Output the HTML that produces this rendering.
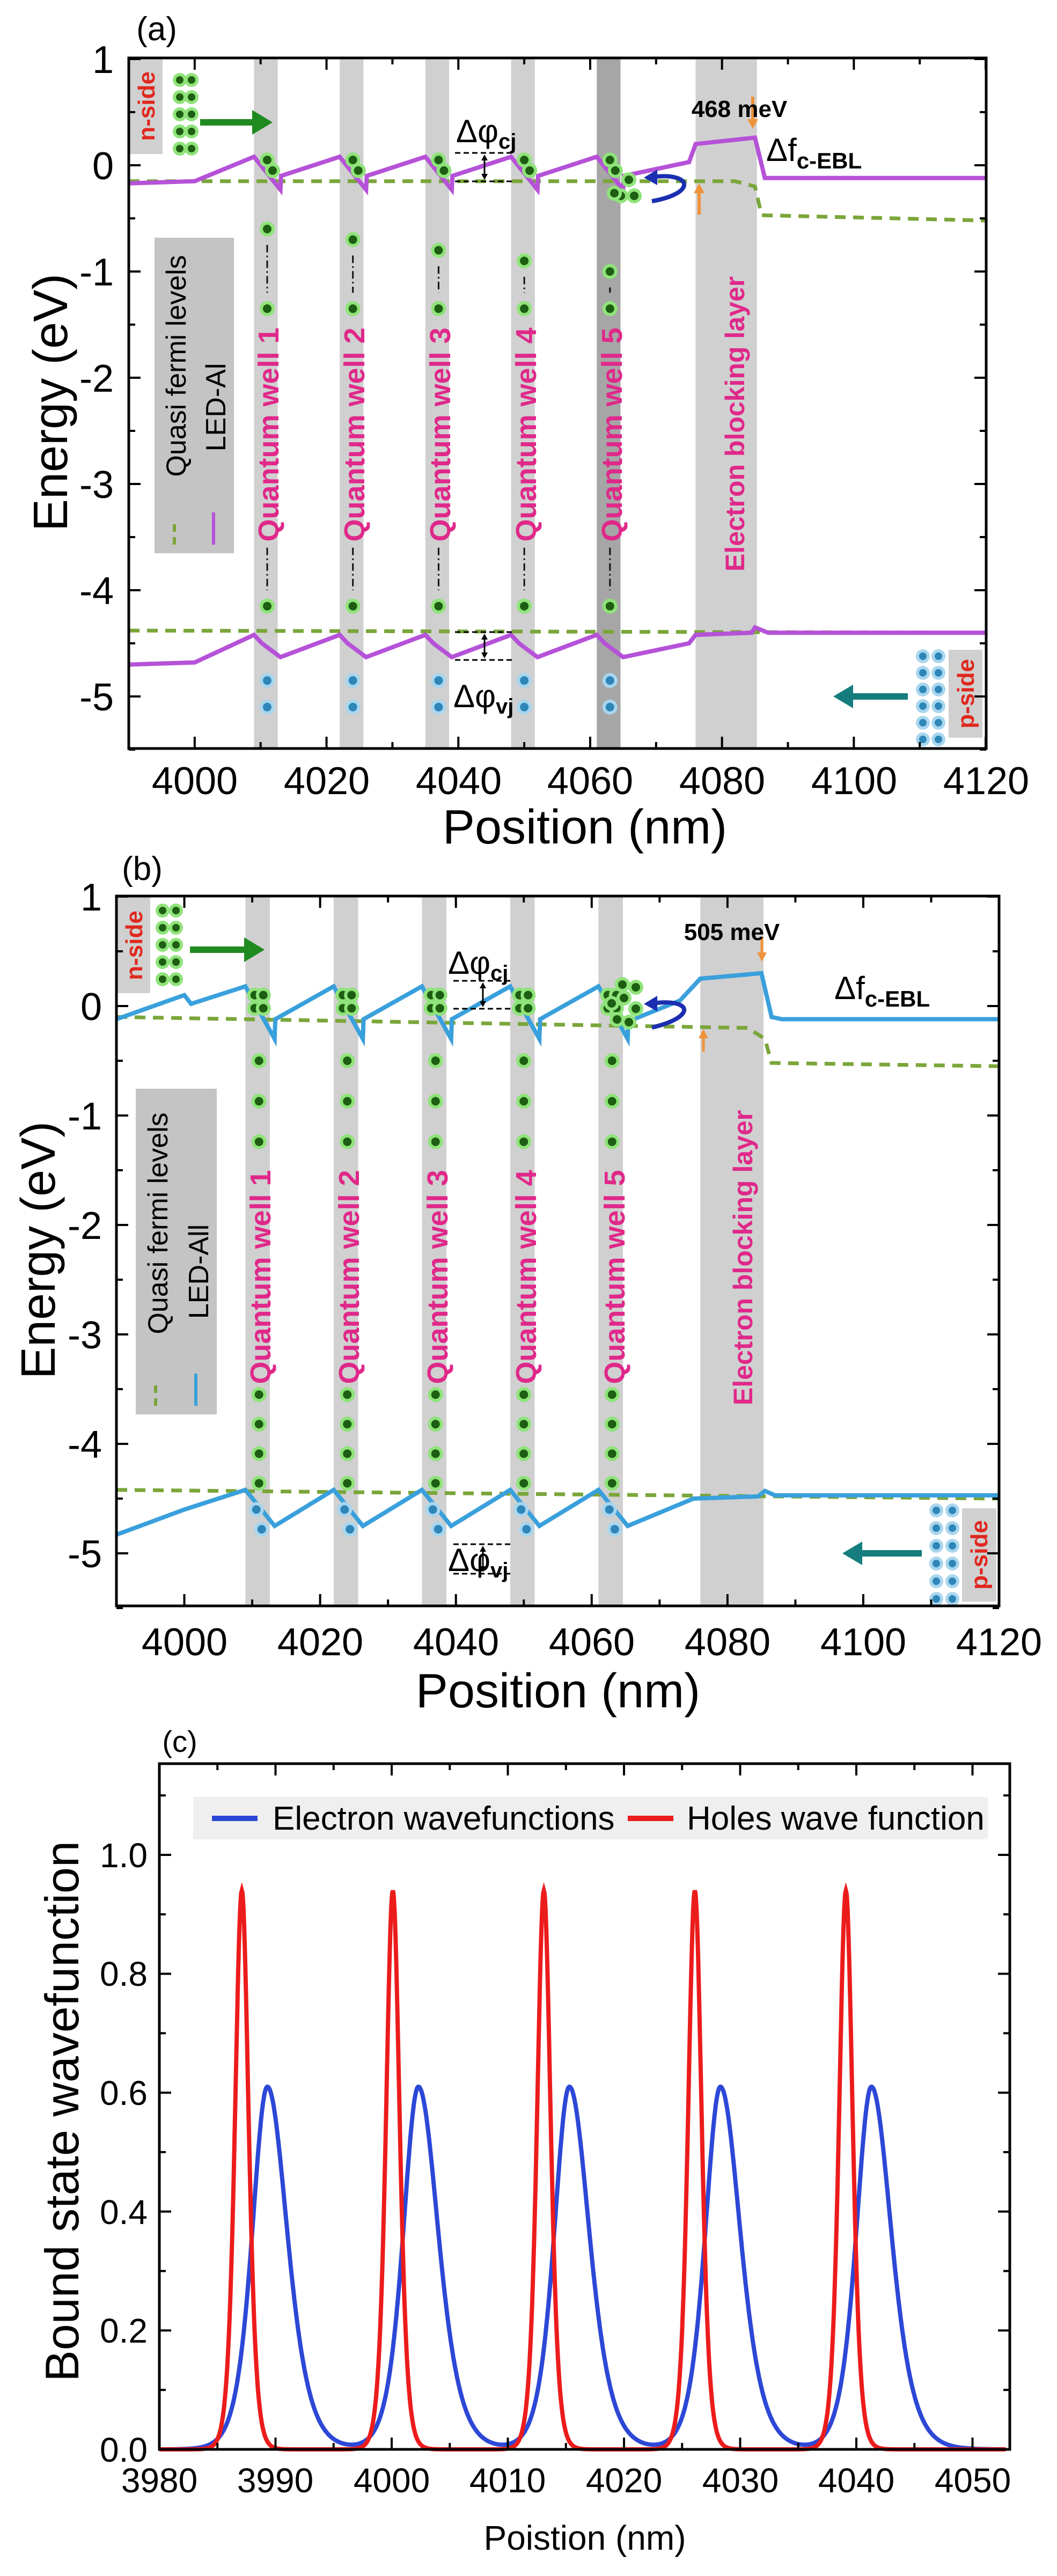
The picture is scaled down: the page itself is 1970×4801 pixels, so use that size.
<!DOCTYPE html>
<html><head><meta charset="utf-8"><style>
html,body{margin:0;padding:0;background:#fff}
svg{display:block}
text{font-family:"Liberation Sans",Arial,sans-serif}
</style></head><body>
<svg id="s" xmlns="http://www.w3.org/2000/svg" width="1970" height="4801" viewBox="0 0 1970 4801">
<rect width="1970" height="4801" fill="#fff"/>
<g id="bg"></g>
<g id="data"></g>
<g id="frame" fill="none" stroke="#000" stroke-width="5"></g>
<g font-size="72" text-anchor="middle">
<text x="292" y="75" font-size="62">(a)</text>
<text x="212" y="136" text-anchor="end">1</text>
<text x="212" y="334" text-anchor="end">0</text>
<text x="212" y="532" text-anchor="end">-1</text>
<text x="212" y="730" text-anchor="end">-2</text>
<text x="212" y="928" text-anchor="end">-3</text>
<text x="212" y="1126" text-anchor="end">-4</text>
<text x="212" y="1324" text-anchor="end">-5</text>
<text x="363" y="1480">4000</text><text x="609" y="1480">4020</text><text x="855" y="1480">4040</text>
<text x="1100" y="1480">4060</text><text x="1346" y="1480">4080</text><text x="1592" y="1480">4100</text><text x="1838" y="1480">4120</text>
<text x="1090" y="1572" font-size="90">Position (nm)</text>
<text transform="translate(125,750) rotate(-90)" font-size="90">Energy (eV)</text>
</g>
<g font-size="72" text-anchor="middle">
<text x="265" y="1640" font-size="62">(b)</text>
<text x="190" y="1697" text-anchor="end">1</text>
<text x="190" y="1901" text-anchor="end">0</text>
<text x="190" y="2105" text-anchor="end">-1</text>
<text x="190" y="2309" text-anchor="end">-2</text>
<text x="190" y="2513" text-anchor="end">-3</text>
<text x="190" y="2717" text-anchor="end">-4</text>
<text x="190" y="2921" text-anchor="end">-5</text>
<text x="344" y="3085">4000</text><text x="597" y="3085">4020</text><text x="850" y="3085">4040</text>
<text x="1103" y="3085">4060</text><text x="1356" y="3085">4080</text><text x="1609" y="3085">4100</text><text x="1862" y="3085">4120</text>
<text x="1040" y="3182" font-size="90">Position (nm)</text>
<text transform="translate(102,2330) rotate(-90)" font-size="90">Energy (eV)</text>
</g>
<g font-size="64" text-anchor="middle">
<text x="335" y="3265" font-size="56">(c)</text>
<text x="275" y="3480" text-anchor="end">1.0</text>
<text x="275" y="3701" text-anchor="end">0.8</text>
<text x="275" y="3923" text-anchor="end">0.6</text>
<text x="275" y="4145" text-anchor="end">0.4</text>
<text x="275" y="4366" text-anchor="end">0.2</text>
<text x="275" y="4588" text-anchor="end">0.0</text>
<text x="297" y="4645">3980</text><text x="513" y="4645">3990</text><text x="730" y="4645">4000</text><text x="946" y="4645">4010</text>
<text x="1163" y="4645">4020</text><text x="1380" y="4645">4030</text><text x="1596" y="4645">4040</text><text x="1813" y="4645">4050</text>
<text x="1090" y="4752" font-size="64">Poistion (nm)</text>
<text transform="translate(146,3935) rotate(-90)" font-size="88">Bound state wavefunction</text>
</g>
<script>
var NS="http://www.w3.org/2000/svg";
function el(parent,tag,attrs){var e=document.createElementNS(NS,tag);for(var k in attrs)e.setAttribute(k,attrs[k]);document.getElementById(parent).appendChild(e);return e;}
var P={a:{x0:240,x1:1838,y0:108,y1:1395,X:function(x){return 240+(x-3990)*12.285},Y:function(e){return 308-198*e}},
b:{x0:217,x1:1862,y0:1670,y1:2993,X:function(x){return 217+(x-3990)*12.654},Y:function(e){return 1875-204*e}},
c:{x0:297,x1:1882,y0:3287,y1:4565,X:function(x){return 297+(x-3980)*21.65},Y:function(v){return 4565-1108*v}}};
function path(p,pts,attrs){var d="";pts.forEach(function(q,i){d+=(i?"L":"M")+p.X(q[0]).toFixed(1)+" "+p.Y(q[1]).toFixed(1)});attrs.d=d;attrs.fill="none";return el("data","path",attrs);}
function vrect(p,xa,xb,col){el("bg","rect",{x:p.X(xa),y:p.y0,width:p.X(xb)-p.X(xa),height:p.y1-p.y0,fill:col});}
function dot(cx,cy,col,r){r=r||10;el("data","circle",{cx:cx,cy:cy,r:r+4,fill:col=="b"?"#a9d6ee":"#8fe37a"});el("data","circle",{cx:cx,cy:cy,r:r-2,fill:col=="b"?"#2e86b8":"#1d5e12"});}
var wells=[4009,4022,4035,4048,4061];
["a","b"].forEach(function(k){var p=P[k];
 wells.forEach(function(w,i){vrect(p,w,w+3.6,(k=="a"&&i==4)?"#a6a6a6":"#d0d0d0");});
 vrect(p,4076,4085.3,"#d0d0d0");
});
el("bg","rect",{x:242,y:110,width:61,height:177,fill:"#d0d0d0"});
el("bg","rect",{x:1768,y:1211,width:63,height:164,fill:"#d0d0d0"});
el("bg","rect",{x:288,y:443,width:148,height:588,fill:"#c4c4c4"});
el("bg","rect",{x:219,y:1672,width:61,height:179,fill:"#d0d0d0"});
el("bg","rect",{x:1793,y:2811,width:64,height:174,fill:"#d0d0d0"});
el("bg","rect",{x:253,y:2029,width:151,height:607,fill:"#c4c4c4"});
el("bg","rect",{x:360,y:3349,width:1481,height:79,fill:"#efefef"});
var A=P.a, B=P.b;
var cbA=[[3990,-0.17],[4000,-0.15]];
wells.forEach(function(w){cbA.push([w,0.08],[w+4,-0.23],[w+4.1,-0.1]);});
cbA.pop(); cbA.push([4065.1,-0.1],[4075,0.03],[4076,0.2],[4085,0.26],[4086.5,-0.12],[4120,-0.12]);
var vbA=[[3990,-4.7],[4000,-4.68]];
wells.forEach(function(w){vbA.push([w,-4.42],[w+1.2,-4.5],[w+4,-4.63]);});
vbA.push([4075,-4.5],[4076,-4.42],[4084.5,-4.4],[4085,-4.35],[4087,-4.4],[4120,-4.4]);
path(A,[[3990,-0.15],[4082,-0.15],[4085,-0.2],[4086,-0.47],[4120,-0.52]],{stroke:"#7aa63a","stroke-width":7,"stroke-dasharray":"20 14"});
path(A,[[3990,-4.38],[4120,-4.4]],{stroke:"#7aa63a","stroke-width":7,"stroke-dasharray":"20 14"});
path(A,cbA,{stroke:"#b552d8","stroke-width":8});
path(A,vbA,{stroke:"#b552d8","stroke-width":8});
var cbB=[[3990,-0.12],[4000,0.1],[4001,0.02]];
wells.forEach(function(w){cbB.push([w,0.18],[w+4.3,-0.3],[w+4.4,-0.12]);});
cbB.pop(); cbB.push([4065.4,-0.14],[4073,0.05],[4076,0.25],[4085,0.3],[4086.5,-0.1],[4088,-0.12],[4120,-0.12]);
var vbB=[[3990,-4.83],[4000,-4.6]];
wells.forEach(function(w){vbB.push([w,-4.42],[w+4.3,-4.75]);});
vbB.push([4075,-4.5],[4084.5,-4.48],[4085.5,-4.43],[4087,-4.47],[4120,-4.47]);
path(B,[[3990,-0.1],[4083,-0.2],[4085.5,-0.3],[4086.5,-0.52],[4120,-0.55]],{stroke:"#7aa63a","stroke-width":7,"stroke-dasharray":"20 14"});
path(B,[[3990,-4.42],[4120,-4.5]],{stroke:"#7aa63a","stroke-width":7,"stroke-dasharray":"20 14"});
path(B,cbB,{stroke:"#3aa0dc","stroke-width":8});
path(B,vbB,{stroke:"#3aa0dc","stroke-width":8});
wells.forEach(function(w,i){
 var cx=A.X(w+2);
 dot(cx,A.Y(0.05),"g");dot(cx+10,A.Y(-0.05),"g");
 dot(cx,A.Y(-0.6-0.1*i),"g");dot(cx,A.Y(-1.35),"g");dot(cx,A.Y(-4.15),"g");
 dot(cx,A.Y(-4.85),"b");dot(cx,A.Y(-5.1),"b");
 el("data","line",{x1:cx,y1:A.Y(-0.75-0.1*i),x2:cx,y2:A.Y(-1.2),stroke:"#111","stroke-width":3,"stroke-dasharray":"14 6 3 6"});
 el("data","line",{x1:cx,y1:A.Y(-3.6),x2:cx,y2:A.Y(-4.0),stroke:"#111","stroke-width":3,"stroke-dasharray":"14 6 3 6"});
 var bx=B.X(w+2);
 dot(bx-8,B.Y(0.1),"g");dot(bx+8,B.Y(0.1),"g");dot(bx-8,B.Y(-0.02),"g");dot(bx+8,B.Y(-0.02),"g");
 for(var e2=-0.5;e2>-1.4;e2-=0.37)dot(bx,B.Y(e2),"g");
 for(var e3=-3.55;e3>-4.4;e3-=0.27)dot(bx,B.Y(e3),"g");
 dot(bx-5,B.Y(-4.6),"b");dot(bx+5,B.Y(-4.78),"b");
});
for(var i=0;i<5;i++){dot(335,149+i*32,"g",9);dot(357,149+i*32,"g",9);dot(303,1697+i*32,"g",9);dot(328,1697+i*32,"g",9);}
for(var i=0;i<6;i++){dot(1720,1223+i*31,"b",9);dot(1749,1223+i*31,"b",9);dot(1745,2815+i*33,"b",9);dot(1775,2815+i*33,"b",9);}
el("data","path",{d:"M373 222 H470 V205 L508 228 L470 251 V234 H373Z",fill:"#1f8a1f"});
el("data","path",{d:"M354 1764 H455 V1747 L493 1770 L455 1793 V1776 H354Z",fill:"#1f8a1f"});
el("data","path",{d:"M1692 1292 H1590 V1276 L1553 1298 L1590 1320 V1304 H1692Z",fill:"#157d7d"});
el("data","path",{d:"M1718 2889 H1607 V2873 L1570 2895 L1607 2917 V2901 H1718Z",fill:"#157d7d"});
el("data","line",{x1:1403,y1:180,x2:1403,y2:228,stroke:"#f0923a","stroke-width":6});el("data","path",{d:"M1393 222 L1413 222 L1403 240Z",fill:"#f0923a"});
el("data","line",{x1:1303,y1:400,x2:1303,y2:355,stroke:"#f0923a","stroke-width":6});el("data","path",{d:"M1293 360 L1313 360 L1303 342Z",fill:"#f0923a"});
el("data","line",{x1:1420,y1:1746,x2:1420,y2:1780,stroke:"#f0923a","stroke-width":5});el("data","path",{d:"M1411 1775 L1429 1775 L1420 1792Z",fill:"#f0923a"});
el("data","line",{x1:1311,y1:1960,x2:1311,y2:1930,stroke:"#f0923a","stroke-width":5});el("data","path",{d:"M1302 1935 L1320 1935 L1311 1918Z",fill:"#f0923a"});
el("data","path",{d:"M1215 375 C1300 360 1290 320 1215 330",fill:"none",stroke:"#1a2fb0","stroke-width":8});el("data","path",{d:"M1200 331 L1225 316 L1225 345Z",fill:"#1a2fb0"});
el("data","path",{d:"M1215 1915 C1300 1895 1290 1860 1215 1870",fill:"none",stroke:"#1a2fb0","stroke-width":8});el("data","path",{d:"M1200 1871 L1225 1856 L1225 1885Z",fill:"#1a2fb0"});
[[1157,365],[1182,365],[1172,335],[1145,360]].forEach(function(q){dot(q[0],q[1],"g");});
[[1140,1870],[1163,1860],[1185,1880],[1150,1900],[1172,1905],[1160,1835],[1185,1840]].forEach(function(q){dot(q[0],q[1],"g");});
function bracket(x1,x2,ya,yb){el("data","line",{x1:x1,y1:ya,x2:x2,y2:ya,stroke:"#000","stroke-width":3,"stroke-dasharray":"10 6"});el("data","line",{x1:x1,y1:yb,x2:x2,y2:yb,stroke:"#000","stroke-width":3,"stroke-dasharray":"10 6"});var m=(x1+x2)/2;el("data","line",{x1:m,y1:ya+5,x2:m,y2:yb-5,stroke:"#000","stroke-width":3});el("data","path",{d:"M"+(m-6)+" "+(ya+14)+"L"+(m+6)+" "+(ya+14)+"L"+m+" "+(ya+3)+"Z"});el("data","path",{d:"M"+(m-6)+" "+(yb-14)+"L"+(m+6)+" "+(yb-14)+"L"+m+" "+(yb-3)+"Z"});}
bracket(848,958,285,338);bracket(848,958,1178,1230);
bracket(845,955,1828,1880);bracket(845,955,2878,2933);
var C=P.c;
function curve(f,attrs){var d="";for(var x=3980;x<=4052.9;x+=0.05){d+=(x==3980?"M":"L")+C.X(x).toFixed(1)+" "+C.Y(f(x)).toFixed(1);}attrs.d=d;attrs.fill="none";el("data","path",attrs);}
function sech2(u){var c=Math.cosh(u);return 1/(c*c);}
curve(function(x){var s=0;[3989.3,4002.3,4015.3,4028.3,4041.3].forEach(function(c){var dx=x-c;s+=0.61*sech2(dx/(dx<0?1.75:2.3));});return s;},{stroke:"#2d48d6","stroke-width":8});
curve(function(x){var s=0;[3987.1,4000.1,4013.1,4026.1,4039.1].forEach(function(c){var dx=x-c;s+=0.94*sech2(dx/0.78);});return s;},{stroke:"#ec1c1c","stroke-width":8});
function frame(p,xt,yt){el("frame","rect",{x:p.x0,y:p.y0,width:p.x1-p.x0,height:p.y1-p.y0});
 xt.forEach(function(t){var x=p.X(t[0]),L=t[1]?22:12;el("frame","line",{x1:x,y1:p.y1,x2:x,y2:p.y1-L,"stroke-width":4});el("frame","line",{x1:x,y1:p.y0,x2:x,y2:p.y0+L,"stroke-width":4});});
 yt.forEach(function(t){var y=p.Y(t[0]),L=t[1]?22:12;el("frame","line",{x1:p.x0,y1:y,x2:p.x0+L,y2:y,"stroke-width":4});el("frame","line",{x1:p.x1,y1:y,x2:p.x1-L,y2:y,"stroke-width":4});});}
var xtab=[],ytab=[];for(var x=4000;x<=4120;x+=10)xtab.push([x,x%20==0]);for(var e=1;e>=-5.5;e-=0.5)ytab.push([e,Math.abs(e%1)<0.01]);
frame(A,xtab,ytab);frame(B,xtab,ytab);
var xtc=[],ytc=[];for(var x=3980;x<=4050;x+=5)xtc.push([x,x%10==0]);for(var v=0;v<=1.11;v+=0.1)ytc.push([v,Math.round(v*10)%2==0]);
frame(C,xtc,ytc);
el("data","line",{x1:325,y1:1015,x2:325,y2:970,stroke:"#7aa63a","stroke-width":6,"stroke-dasharray":"14 10"});
el("data","line",{x1:398,y1:1015,x2:398,y2:955,stroke:"#b552d8","stroke-width":6});
el("data","line",{x1:290,y1:2620,x2:290,y2:2575,stroke:"#7aa63a","stroke-width":6,"stroke-dasharray":"14 10"});
el("data","line",{x1:365,y1:2620,x2:365,y2:2560,stroke:"#3aa0dc","stroke-width":6});
el("data","line",{x1:395,y1:3389,x2:480,y2:3389,stroke:"#2d48d6","stroke-width":10});
el("data","line",{x1:1170,y1:3389,x2:1255,y2:3389,stroke:"#ec1c1c","stroke-width":10});
</script>
<g font-weight="bold" fill="#e0288a" font-size="54" text-anchor="middle">
<text transform="translate(519,810) rotate(-90)">Quantum well 1</text>
<text transform="translate(679,810) rotate(-90)">Quantum well 2</text>
<text transform="translate(839,810) rotate(-90)">Quantum well 3</text>
<text transform="translate(999,810) rotate(-90)">Quantum well 4</text>
<text transform="translate(1159,810) rotate(-90)">Quantum well 5</text>
<text transform="translate(1387,790) rotate(-90)" font-size="50">Electron blocking layer</text>
<text transform="translate(504,2380) rotate(-90)">Quantum well 1</text>
<text transform="translate(669,2380) rotate(-90)">Quantum well 2</text>
<text transform="translate(834,2380) rotate(-90)">Quantum well 3</text>
<text transform="translate(999,2380) rotate(-90)">Quantum well 4</text>
<text transform="translate(1164,2380) rotate(-90)">Quantum well 5</text>
<text transform="translate(1402,2344) rotate(-90)" font-size="50">Electron blocking layer</text>
</g>
<g font-weight="bold" fill="#e0281e" font-size="44" text-anchor="middle">
<text transform="translate(288,198) rotate(-90)">n-side</text>
<text transform="translate(1815,1293) rotate(-90)">p-side</text>
<text transform="translate(265,1762) rotate(-90)">n-side</text>
<text transform="translate(1840,2898) rotate(-90)">p-side</text>
</g>
<g font-size="52" text-anchor="middle">
<text transform="translate(346,682) rotate(-90)">Quasi fermi levels</text>
<text transform="translate(420,759) rotate(-90)">LED-Al</text>
<text transform="translate(312,2280) rotate(-90)">Quasi fermi levels</text>
<text transform="translate(388,2370) rotate(-90)">LED-All</text>
</g>
<text x="1378" y="218" font-size="44" font-weight="bold" text-anchor="middle">468 meV</text>
<text x="1364" y="1752" font-size="44" font-weight="bold" text-anchor="middle" font-family="Liberation Serif,serif">505 meV</text>
<g font-size="60">
<text x="1428" y="300">Δf<tspan font-size="42" font-weight="bold" dy="14">c-EBL</tspan></text>
<text x="1555" y="1862">Δf<tspan font-size="42" font-weight="bold" dy="14">c-EBL</tspan></text>
<text x="850" y="265">Δφ<tspan font-size="40" font-weight="bold" dy="12">cj</tspan></text>
<text x="845" y="1318">Δφ<tspan font-size="40" font-weight="bold" dy="12">vj</tspan></text>
<text x="835" y="1815">Δφ<tspan font-size="40" font-weight="bold" dy="12">cj</tspan></text>
<text x="835" y="2928">Δφ<tspan font-size="40" font-weight="bold" dy="12">vj</tspan></text>
</g>
<g font-size="62">
<text x="508" y="3410">Electron wavefunctions</text>
<text x="1280" y="3410">Holes wave function</text>
</g>
</svg>
</body></html>
